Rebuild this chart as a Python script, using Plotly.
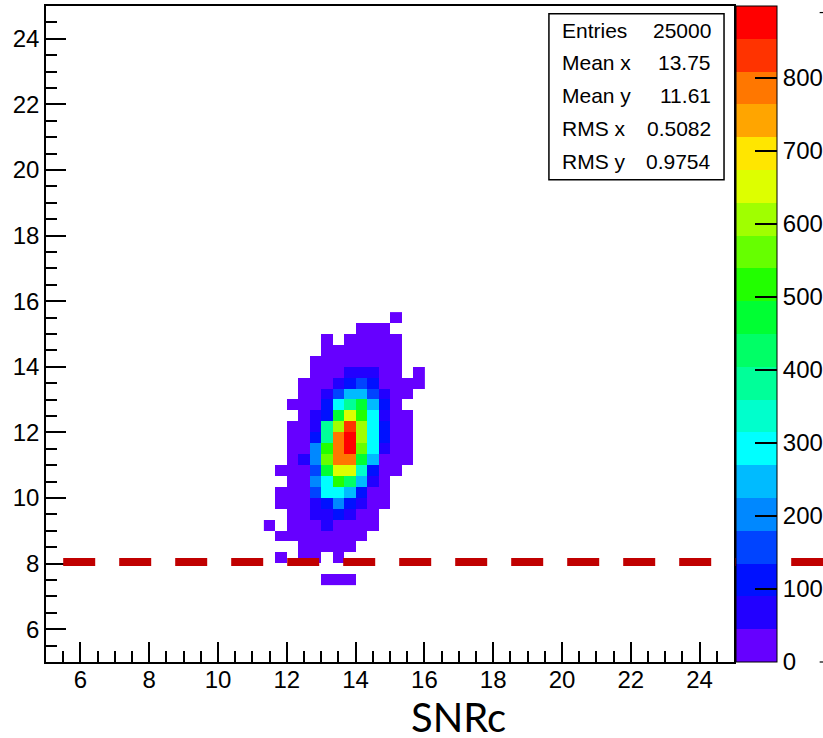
import plotly.graph_objects as go

# ---------------- data ----------------
AX_MIN, AX_MAX, NBINS = 5.0, 25.0, 60          # 60 x 60 bins over [5, 25]
x_first_bin = 19                                # first occupied x bin (SNRc = 11.33)
y_first_bin = 7                                 # first occupied y bin (7.33)

# bin counts, rows listed from top (y bin 31) down to bottom (y bin 7),
# columns are x bins 19 .. 32
counts_top_to_bottom = [
    [0, 0, 0, 0, 0, 0, 0, 0, 0, 0, 0, 3, 0, 0],
    [0, 0, 0, 0, 0, 0, 0, 0, 4, 6, 3, 0, 0, 0],
    [0, 0, 0, 0, 0, 3, 0, 6, 10, 9, 5, 2, 0, 0],
    [0, 0, 0, 0, 0, 6, 12, 18, 22, 20, 10, 4, 0, 0],
    [0, 0, 0, 0, 4, 10, 22, 35, 38, 30, 15, 5, 0, 0],
    [0, 0, 0, 0, 8, 20, 40, 60, 70, 55, 25, 8, 0, 2],
    [0, 0, 0, 4, 15, 38, 80, 120, 160, 110, 40, 12, 5, 3],
    [0, 0, 0, 6, 25, 75, 170, 250, 245, 160, 60, 15, 4, 0],
    [0, 0, 4, 12, 40, 115, 300, 385, 470, 250, 105, 25, 0, 0],
    [0, 0, 0, 18, 70, 125, 475, 650, 520, 295, 80, 30, 6, 0],
    [0, 0, 5, 30, 85, 375, 610, 830, 600, 300, 115, 35, 8, 0],
    [0, 0, 8, 35, 110, 380, 790, 880, 615, 285, 100, 30, 6, 0],
    [0, 0, 10, 40, 205, 515, 785, 870, 575, 290, 70, 25, 4, 0],
    [0, 0, 15, 55, 210, 560, 780, 790, 470, 240, 40, 15, 3, 0],
    [0, 3, 12, 38, 160, 465, 655, 640, 340, 120, 35, 10, 0, 0],
    [0, 0, 10, 40, 200, 300, 520, 420, 250, 75, 25, 0, 0, 0],
    [0, 4, 8, 30, 150, 290, 300, 240, 115, 40, 8, 0, 0, 0],
    [0, 3, 6, 22, 60, 115, 195, 120, 65, 20, 5, 0, 0, 0],
    [0, 0, 5, 18, 50, 70, 105, 60, 30, 10, 0, 0, 0, 0],
    [2, 0, 4, 15, 35, 50, 40, 30, 15, 5, 0, 0, 0, 0],
    [0, 3, 8, 15, 25, 30, 25, 18, 8, 0, 0, 0, 0, 0],
    [0, 0, 0, 6, 12, 15, 10, 5, 0, 0, 0, 0, 0, 0],
    [0, 2, 0, 4, 5, 0, 3, 0, 0, 0, 0, 0, 0, 0],
    [0, 0, 0, 0, 0, 0, 0, 0, 0, 0, 0, 0, 0, 0],
    [0, 0, 0, 0, 0, 2, 2, 1, 0, 0, 0, 0, 0, 0],
]

stats_labels = ["Entries", "Mean x", "Mean y", "RMS x", "RMS y"]
stats_values = ["25000", "13.75", "11.61", "0.5082", "0.9754"]

palette = [
    "#6600FF", "#2200FF", "#0011FF", "#0044FF", "#0088FF",
    "#00BBFF", "#00FFFF", "#00FFCC", "#00FF99", "#00FF66",
    "#00FF33", "#22FF00", "#66FF00", "#A0FF00", "#DDFF00",
    "#FFE600", "#FFA500", "#FF7700", "#FF3300", "#FF0000",
]
z_max = 898
cbar_ticks = [0, 100, 200, 300, 400, 500, 600, 700, 800]
axis_ticks = [6, 8, 10, 12, 14, 16, 18, 20, 22, 24]
cut_value = 8.05
cut_x_start = 5.5
x_title = "SNRc"

# ---------------- build ----------------
bw = (AX_MAX - AX_MIN) / NBINS
rows = counts_top_to_bottom[::-1]
ncol = len(rows[0])
nrow = len(rows)
x_edges = [AX_MIN + (x_first_bin + i) * bw for i in range(ncol + 1)]
y_edges = [AX_MIN + (y_first_bin + j) * bw for j in range(nrow + 1)]
z = [[(v if v > 0 else None) for v in r] for r in rows]

n = len(palette)
cs = []
for i, c in enumerate(palette):
    cs.append([i / n, c])
    cs.append([(i + 1) / n, c])

FONT = "Liberation Sans, Arial, Helvetica, sans-serif"

fig = go.Figure()
fig.add_trace(go.Heatmap(
    x=x_edges, y=y_edges, z=z, zmin=0, zmax=z_max, colorscale=cs,
    hoverinfo="skip",
    colorbar=dict(
        x=1.0, xanchor="left", xpad=2, y=0.5, yanchor="middle", ypad=0,
        len=1, lenmode="fraction", thickness=41, thicknessmode="pixels",
        outlinewidth=1, outlinecolor="black",
        tickmode="array", tickvals=cbar_ticks, ticktext=[str(t) for t in cbar_ticks],
        ticks="inside", ticklen=22, tickwidth=1.5, tickcolor="black",
        tickfont=dict(family=FONT, size=24, color="black"),
    ),
))

axis_common = dict(
    range=[AX_MIN, AX_MAX], tickmode="array", tickvals=axis_ticks,
    ticks="inside", ticklen=20, tickwidth=1.5, tickcolor="black",
    minor=dict(ticks="inside", ticklen=11, tickwidth=1.5, tickcolor="black", dtick=0.5, tick0=0),
    showline=True, linecolor="black", linewidth=1.5, mirror=True,
    showgrid=False, zeroline=False,
    tickfont=dict(family=FONT, size=24, color="black"),
)
fig.update_xaxes(**axis_common, ticklabelstandoff=-5)
fig.update_yaxes(**axis_common, ticklabelstandoff=0)

# dashed cut line
fig.add_shape(type="line", xref="paper", yref="y",
              x0=(cut_x_start - AX_MIN) / (AX_MAX - AX_MIN), x1=1.14,
              y0=cut_value, y1=cut_value,
              line=dict(color="#C00000", width=8, dash="32px,24px"), layer="above")

# stats box
fig.add_shape(type="rect", xref="paper", yref="paper",
              x0=0.731, x1=0.9855, y0=0.735, y1=0.988,
              line=dict(color="black", width=1.5), fillcolor="white", layer="above")
row_y = [0.9634, 0.9139, 0.8643, 0.8140, 0.7637]
for lab, val, yy in zip(stats_labels, stats_values, row_y):
    fig.add_annotation(text=lab, xref="paper", yref="paper", x=0.747, y=yy,
                       xanchor="left", yanchor="middle", showarrow=False,
                       font=dict(family=FONT, size=21, color="black"))
    fig.add_annotation(text=val, xref="paper", yref="paper", x=0.9695, y=yy,
                       xanchor="right", yanchor="middle", showarrow=False,
                       font=dict(family=FONT, size=21, color="black"))

# small tick fragments at the right edge of the original image
for yy in (0.99, 0.0):
    fig.add_shape(type="line", xref="paper", yref="paper", x0=1.1245, x1=1.131,
                  y0=yy, y1=yy, line=dict(color="black", width=1.2))

fig.add_annotation(text=x_title, xref="paper", yref="paper", x=0.599, y=0,
                   xanchor="center", yanchor="top", yshift=-29, showarrow=False,
                   font=dict(family="Lato, Open Sans, sans-serif", size=40, color="black"))

fig.update_layout(
    width=823, height=738,
    margin=dict(l=46, r=89, t=6, b=76, autoexpand=False),
    paper_bgcolor="white", plot_bgcolor="white",
    showlegend=False,
)

fig.write_html("out.html")
